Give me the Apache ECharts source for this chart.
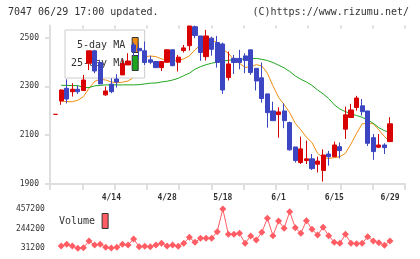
<!DOCTYPE html>
<html>
<head>
<meta charset="utf-8">
<script src="https://cdn.jsdelivr.net/npm/echarts@6/dist/echarts.min.js"></script>
<style>
html,body{margin:0;padding:0;background:#fff;}
#main{width:420px;height:259px;}
</style>
</head>
<body>
<div id="main"></div>
<script>
// 日付 (3/31 - 6/29)
var dates = ['3/31','4/1','4/4','4/5','4/6','4/7','4/8','4/11','4/12','4/13','4/14','4/15',
  '4/18','4/19','4/20','4/21','4/22','4/25','4/26','4/27','4/28','5/2','5/6',
  '5/9','5/10','5/11','5/12','5/13','5/16','5/17','5/18','5/19','5/20',
  '5/23','5/24','5/25','5/26','5/27','5/30','5/31','6/1','6/2','6/3',
  '6/6','6/7','6/8','6/9','6/10','6/13','6/14','6/15','6/16','6/17',
  '6/20','6/21','6/22','6/23','6/24','6/27','6/28','6/29'];

var opens  = [2185,2240,2292,2278,2288,2283,2395,2446,2398,2265,2309,2330,2347,2388,2470,2456,2446,2409,2402,2377,
  2399,2450,2399,2447,2467,2545,2507,2422,2498,2480,2474,2336,2415,2415,2425,2450,2374,2335,2269,2199,
  2184,2199,2151,2051,1987,1995,2002,1980,1954,2022,2011,2052,2124,2172,2213,2220,2199,2089,2050,2059,2073];
var closes = [2185,2285,2248,2288,2278,2326,2446,2363,2310,2281,2278,2318,2393,2404,2443,2446,2398,2399,2377,2402,
  2450,2385,2420,2458,2548,2509,2439,2507,2452,2398,2285,2392,2398,2398,2406,2357,2322,2250,2192,2159,
  2195,2159,2039,1995,2043,2002,1962,1993,2018,2011,2059,2036,2183,2203,2252,2196,2066,2032,2059,2048,2146];
var lows   = [2185,2224,2230,2258,2269,2283,2367,2354,2310,2261,2272,2295,2347,2388,2425,2411,2388,2391,2375,2363,
  2399,2383,2361,2439,2447,2498,2405,2406,2426,2377,2269,2324,2351,2370,2354,2347,2283,2233,2130,2159,
  2089,2128,2036,1987,1981,1981,1956,1946,1909,1974,2011,2004,2084,2172,2200,2180,2055,1998,2046,2022,2073];
var highs  = [2185,2287,2329,2313,2304,2347,2446,2450,2409,2299,2333,2350,2409,2436,2480,2477,2484,2425,2402,2402,
  2452,2452,2429,2470,2548,2550,2507,2532,2504,2507,2480,2443,2429,2450,2436,2450,2374,2398,2269,2237,
  2214,2230,2155,2051,2093,2077,2022,2011,2041,2035,2073,2069,2217,2228,2261,2248,2199,2104,2104,2066,2173];

var ma5  = [null,2240,2237,2237,2243,2258,2292,2320,2329,2326,2318,2315,2317,2322,2336,2395,2421,2425,2422,2413,
  2407,2405,2406,2413,2425,2450,2470,2487,2489,2480,2452,2436,2409,2395,2378,2380,2389,2384,2354,2302,
  2255,2225,2192,2148,2121,2091,2069,2025,2007,2004,2007,2011,2025,2063,2107,2146,2148,2146,2121,2094,2073];
var ma25 = [null,2304,2304,2303,2303,2295,2295,2302,2304,2306,2306,2306,2306,2306,2306,2307,2310,2313,2314,2318,
  2321,2326,2333,2344,2354,2370,2381,2389,2395,2400,2404,2407,2410,2411,2413,2414,2415,2411,2406,2398,
  2387,2376,2361,2343,2329,2318,2304,2285,2269,2250,2224,2207,2196,2188,2180,2173,2162,2148,2130,2118,2110];

var volumes = [null,56100,74200,56100,31200,38000,110300,67000,74200,42000,34000,42000,74200,67000,132000,48900,
  52800,48900,67000,85000,56100,67000,52800,85000,150000,96000,139000,139000,139300,211500,457200,
  183000,183000,193800,85400,164500,121200,204600,356400,168100,327100,248000,428300,254900,193800,
  330700,237200,175400,258800,168100,96200,85400,183000,85400,81400,85400,157300,110300,92200,63700,110300];

var priceTicks = [1900, 2100, 2300, 2500];
var volTicks = [31200, 244200, 457200];

var mono = 'DejaVu Sans Mono';
var gridColor = '#dedede';

var myChart = echarts.init(document.getElementById('main'));

var candles = dates.map(function (d, i) {
    return [opens[i], closes[i], lows[i], highs[i]];
});

function plain(v) { return String(v); }

var option = {
    animation: false,
    title: [{
        text: '7047 06/29 17:00 updated.',
        left: 8, top: 7, padding: 0,
        textStyle: {fontFamily: mono, fontSize: 10, fontWeight: 'normal', color: '#333'}
    }, {
        text: '(C)https://www.rizumu.net/',
        right: 11, top: 7, padding: 0,
        textStyle: {fontFamily: mono, fontSize: 10, fontWeight: 'normal', color: '#333'}
    }],
    legend: [{
        data: ['5-day MA', '25-day MA'],
        orient: 'vertical', align: 'right',
        left: 65, top: 30,
        padding: [7, 6, 7, 6],
        itemGap: 2, itemWidth: 6, itemHeight: 15,
        icon: 'rect',
        itemStyle: {borderColor: '#333', borderWidth: 1},
        borderColor: '#ccc', borderWidth: 1, backgroundColor: '#fff',
        textStyle: {fontFamily: mono, fontSize: 10, color: '#333', padding: [0, 2, 0, 0]},
        selectedMode: false,
        z: 2
    }, {
        data: ['Volume'],
        orient: 'vertical', align: 'right',
        left: 59, top: 213, padding: 0,
        itemWidth: 6, itemHeight: 15,
        icon: 'rect',
        itemStyle: {borderColor: '#333', borderWidth: 1},
        textStyle: {fontFamily: mono, fontSize: 10, color: '#333', padding: [0, 2, 0, 0]},
        selectedMode: false
    }],
    grid: [
        {left: 50, right: 15, top: 25.5, bottom: 75.3},     // 枠
        {left: 52.8, right: 27.2, top: 25.5, bottom: 75.3}, // ローソク足
        {left: 52.8, right: 27.2, top: 209, bottom: 10.7}   // 出来高
    ],
    xAxis: [{
        gridIndex: 0, type: 'value', min: 0, max: 11, interval: 1,
        axisLine: {lineStyle: {color: gridColor, width: 2}},
        axisTick: {length: 6, lineStyle: {color: gridColor, width: 2}},
        axisLabel: {show: false}, splitLine: {show: false}
    }, {
        gridIndex: 0, type: 'value', min: 0, max: 11, interval: 1,
        axisLine: {show: false},
        axisTick: {inside: true, length: 3, lineStyle: {color: gridColor, width: 2}},
        axisLabel: {show: false}, splitLine: {show: false}
    }, {
        gridIndex: 1, type: 'category', data: dates,
        axisLine: {show: false}, axisTick: {show: false},
        axisLabel: {
            interval: function (i) { return i > 0 && i % 10 === 0; },
            fontFamily: mono, fontSize: 8, fontWeight: 'bold', color: '#333', margin: 10
        }
    }, {
        gridIndex: 2, type: 'category', data: dates, show: false
    }],
    yAxis: [{
        gridIndex: 0, type: 'value', min: 1900, max: 2550,
        axisLine: {show: true, lineStyle: {color: gridColor, width: 2}},
        axisTick: {show: true, length: 5, customValues: priceTicks, lineStyle: {color: gridColor, width: 2}},
        axisLabel: {customValues: priceTicks, formatter: plain, fontFamily: mono, fontSize: 8, color: '#333', margin: 11},
        splitLine: {show: false}
    }, {
        gridIndex: 0, type: 'value', min: 1900, max: 2550,
        axisLine: {show: false},
        axisTick: {show: true, inside: true, length: 3, customValues: priceTicks, lineStyle: {color: gridColor, width: 2}},
        axisLabel: {show: false}, splitLine: {show: false}
    }, {
        gridIndex: 1, type: 'value', min: 1900, max: 2550, show: false
    }, {
        gridIndex: 2, type: 'value', min: 31200, max: 457200,
        axisLine: {show: false}, axisTick: {show: false},
        axisLabel: {customValues: volTicks, formatter: plain, fontFamily: mono, fontSize: 8, color: '#333', margin: 8},
        splitLine: {show: false}
    }],
    series: [{
        name: 'price', type: 'candlestick',
        xAxisIndex: 2, yAxisIndex: 2,
        data: candles,
        barWidth: '84%',
        itemStyle: {color: '#d80000', color0: '#3c46c2', borderColor: '#d80000', borderColor0: '#3c46c2', borderWidth: 1},
        z: 3
    }, {
        name: '5-day MA', type: 'line',
        xAxisIndex: 2, yAxisIndex: 2,
        data: ma5, color: '#f08c10',
        symbol: 'none', lineStyle: {width: 1}, z: 1
    }, {
        name: '25-day MA', type: 'line',
        xAxisIndex: 2, yAxisIndex: 2,
        data: ma25, color: '#1ea51e',
        symbol: 'none', lineStyle: {width: 1}, z: 1
    }, {
        name: 'Volume', type: 'line',
        xAxisIndex: 3, yAxisIndex: 3,
        data: volumes, color: '#ff5c64',
        symbol: 'diamond', symbolSize: 7, showAllSymbol: true,
        lineStyle: {width: 1}
    }]
};

myChart.setOption(option);
</script>
</body>
</html>
